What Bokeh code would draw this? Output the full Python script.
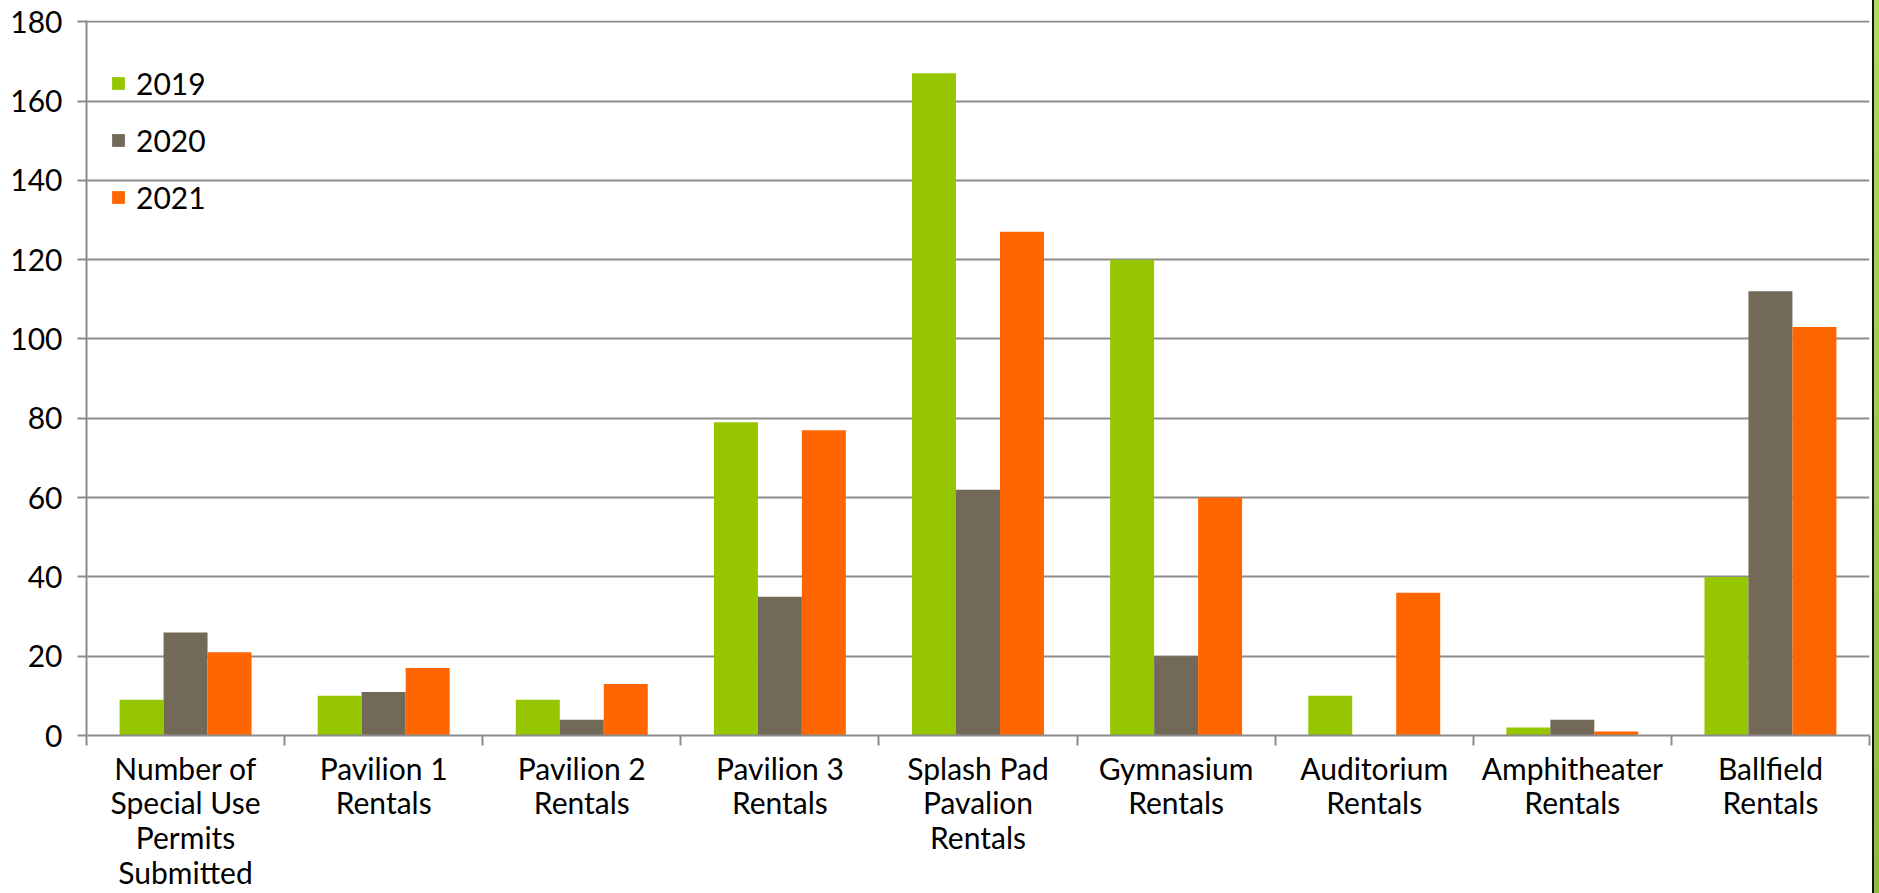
from bokeh.plotting import figure
from bokeh.models import (ColumnDataSource, Range1d, FixedTicker, Legend, LegendItem, Spacer)
from bokeh.layouts import row
from bokeh.transform import dodge
from bokeh.embed import file_html
from bokeh.resources import INLINE

categories = [
    "Number of\nSpecial Use\nPermits\nSubmitted",
    "Pavilion 1\nRentals",
    "Pavilion 2\nRentals",
    "Pavilion 3\nRentals",
    "Splash Pad\nPavalion\nRentals",
    "Gymnasium\nRentals",
    "Auditorium\nRentals",
    "Amphitheater\nRentals",
    "Ballfield\nRentals",
]
series_names = ["2019", "2020", "2021"]
values_2019 = [9, 10, 9, 79, 167, 120, 10, 2, 40]
values_2020 = [26, 11, 4, 35, 62, 20, 0, 4, 112]
values_2021 = [21, 17, 13, 77, 127, 60, 36, 1, 103]
y_ticks = [0, 20, 40, 60, 80, 100, 120, 140, 160, 180]
colors = ["#95c600", "#726959", "#ff6600"]

FONT = "Lato"
GRID = "#8c8c8c"

n = len(categories)
centers = [i + 0.5 for i in range(n)]
boundaries = list(range(n + 1))

source = ColumnDataSource(dict(
    x=centers,
    v2019=values_2019,
    v2020=values_2020,
    v2021=values_2021,
))

p = figure(
    width=1872, height=893,
    x_range=Range1d(0, n), y_range=Range1d(0, 180.3),
    output_backend="svg", toolbar_location=None,
    min_border_left=86, min_border_right=3, min_border_top=20, min_border_bottom=150,
)
p.outline_line_color = None
p.background_fill_color = "white"
p.border_fill_color = "white"

bw = 0.222
renderers = []
for off, col, c in zip([-bw, 0, bw], ["v2019", "v2020", "v2021"], colors):
    r = p.vbar(x=dodge("x", off, range=p.x_range), top=col, width=bw, bottom=0,
               source=source, fill_color=c, line_color=None)
    renderers.append(r)

# x axis
xa = p.xaxis[0]
xa.ticker = FixedTicker(ticks=centers, minor_ticks=boundaries)
xa.major_label_overrides = {c: lab for c, lab in zip(centers, categories)}
xa.major_tick_line_color = None
xa.minor_tick_line_color = GRID
xa.minor_tick_line_width = 2
xa.minor_tick_out = 10
xa.minor_tick_in = 0
xa.axis_line_color = GRID
xa.axis_line_width = 2
xa.major_label_text_font = FONT
xa.major_label_text_font_size = "30px"
xa.major_label_text_color = "#000000"
xa.major_label_text_line_height = 0.97
xa.major_label_standoff = 4

# y axis
ya = p.yaxis[0]
ya.ticker = FixedTicker(ticks=y_ticks)
ya.minor_tick_line_color = None
ya.major_tick_line_color = GRID
ya.major_tick_line_width = 2
ya.major_tick_out = 9
ya.major_tick_in = 0
ya.axis_line_color = GRID
ya.axis_line_width = 2
ya.major_label_text_font = FONT
ya.major_label_text_font_size = "30px"
ya.major_label_text_color = "#000000"
ya.major_label_standoff = 15

p.xgrid.grid_line_color = None
p.ygrid.grid_line_color = GRID
p.ygrid.grid_line_width = 2
p.ygrid.ticker = FixedTicker(ticks=y_ticks)

legend = Legend(
    items=[LegendItem(label=name, renderers=[r]) for name, r in zip(series_names, renderers)],
    location=(24, 520),
    orientation="vertical",
    glyph_width=16, glyph_height=16,
    label_height=36, spacing=21,
    label_standoff=10,
    padding=0, margin=0,
    border_line_color=None,
    background_fill_alpha=0,
    label_text_font=FONT,
    label_text_font_size="30px",
    label_text_color="#000000",
)
p.add_layout(legend)

edge = Spacer(width=7, height=893, styles={
    "background": "linear-gradient(to right, #111111 0px, #111111 2px, transparent 2px), "
                  "linear-gradient(to bottom, #acdc5c, #8cbc3c)"
})

layout = row(p, edge)

open("out.html", "w").write(file_html(layout, INLINE))
